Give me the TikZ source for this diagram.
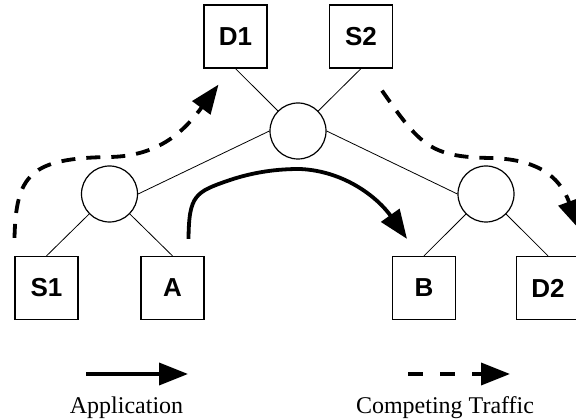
\documentclass[tikz,border=0pt]{standalone}
\usepackage{fontspec}
\setmainfont{Liberation Serif}
\setsansfont{Liberation Sans}
\usetikzlibrary{arrows.meta}
\usetikzlibrary{calc}

\tikzset{
    host/.style = {draw, line width=1.2pt, minimum size=63pt, inner sep=0pt,
        font=\sffamily\bfseries\fontsize{26}{26}\selectfont},
    hub/.style = {draw, circle, line width=1.2pt, minimum size=56pt, inner sep=0pt},
    link/.style = {line width=0.8pt},
    flow/.style = {line width=3.8pt, -{Triangle[length=29pt, width=22pt]}},
    cross/.style = {flow, dash pattern=on 14pt off 11pt},
    legend/.style = {anchor=base, font=\fontsize{24}{24}\selectfont}
}

\begin{document}
\begin{tikzpicture}[x=1pt, y=1pt]
    \useasboundingbox (0,0) rectangle (576,420);
    \node[host] (D1) at (235.5,383.5) {D1};
    \node[host] (S2) at (361,383.5) {S2};
    \node[hub] (top) at (298,289) {};
    \node[hub] (left) at (109.5,226) {};
    \node[hub] (right) at (486,226) {};
    \node[host] (S1) at (46.5,132) {S1};
    \node[host] (A) at (172.5,132) {A};
    \node[host] (B) at (424,132) {B};
    \node[host] (D2) at (548,132) {D2};

    \draw[link] (D1.south) -- (top);
    \draw[link] (S2.south) -- (top);
    \draw[link] (top.west) -- (left.east);
    \draw[link] (top.east) -- (right.west);
    \draw[link] (S1.north) -- (left);
    \draw[link] (A.north) -- (left);
    \draw[link] (B.north) -- (right);
    \draw[link] (D2.north) -- (right);

    % application flow A -> B
    \draw[flow] ($(A.north) + (16,17)$) .. controls (189,225) and (195,228) .. (230,240)
        .. controls (260,250) and (285,251) .. (300,251)
        .. controls (345,249) and (378,222) .. ($(B.north) + (-17,17)$);
    % competing traffic S1 -> D1 and S2 -> D2
    \draw[cross] ($(S1.north) + (-32,18)$) .. controls (16,245) and (30,262) .. (110,263)
        .. controls (160,264) and (185,290) .. ($(D1.south) + (-17,-16)$);
    \draw[cross] ($(S2.south) + (21,-22)$) .. controls (420,275) and (430,263) .. (490,262)
        .. controls (545,261) and (562,237) .. ($(D2.north) + (31,27)$);

    % legend
    \node[legend] (app) at (126.5,6) {Application};
    \node[legend] (comp) at (445,6) {Competing Traffic};
    \coordinate (appA) at (86,46);
    \coordinate (appB) at (188,46);
    \coordinate (compA) at (408,46);
    \coordinate (compB) at (510,46);
    \draw[flow] (appA) -- (appB);
    \draw[cross, dash pattern=on 15pt off 17pt] (compA) -- (compB);
\end{tikzpicture}
\end{document}
